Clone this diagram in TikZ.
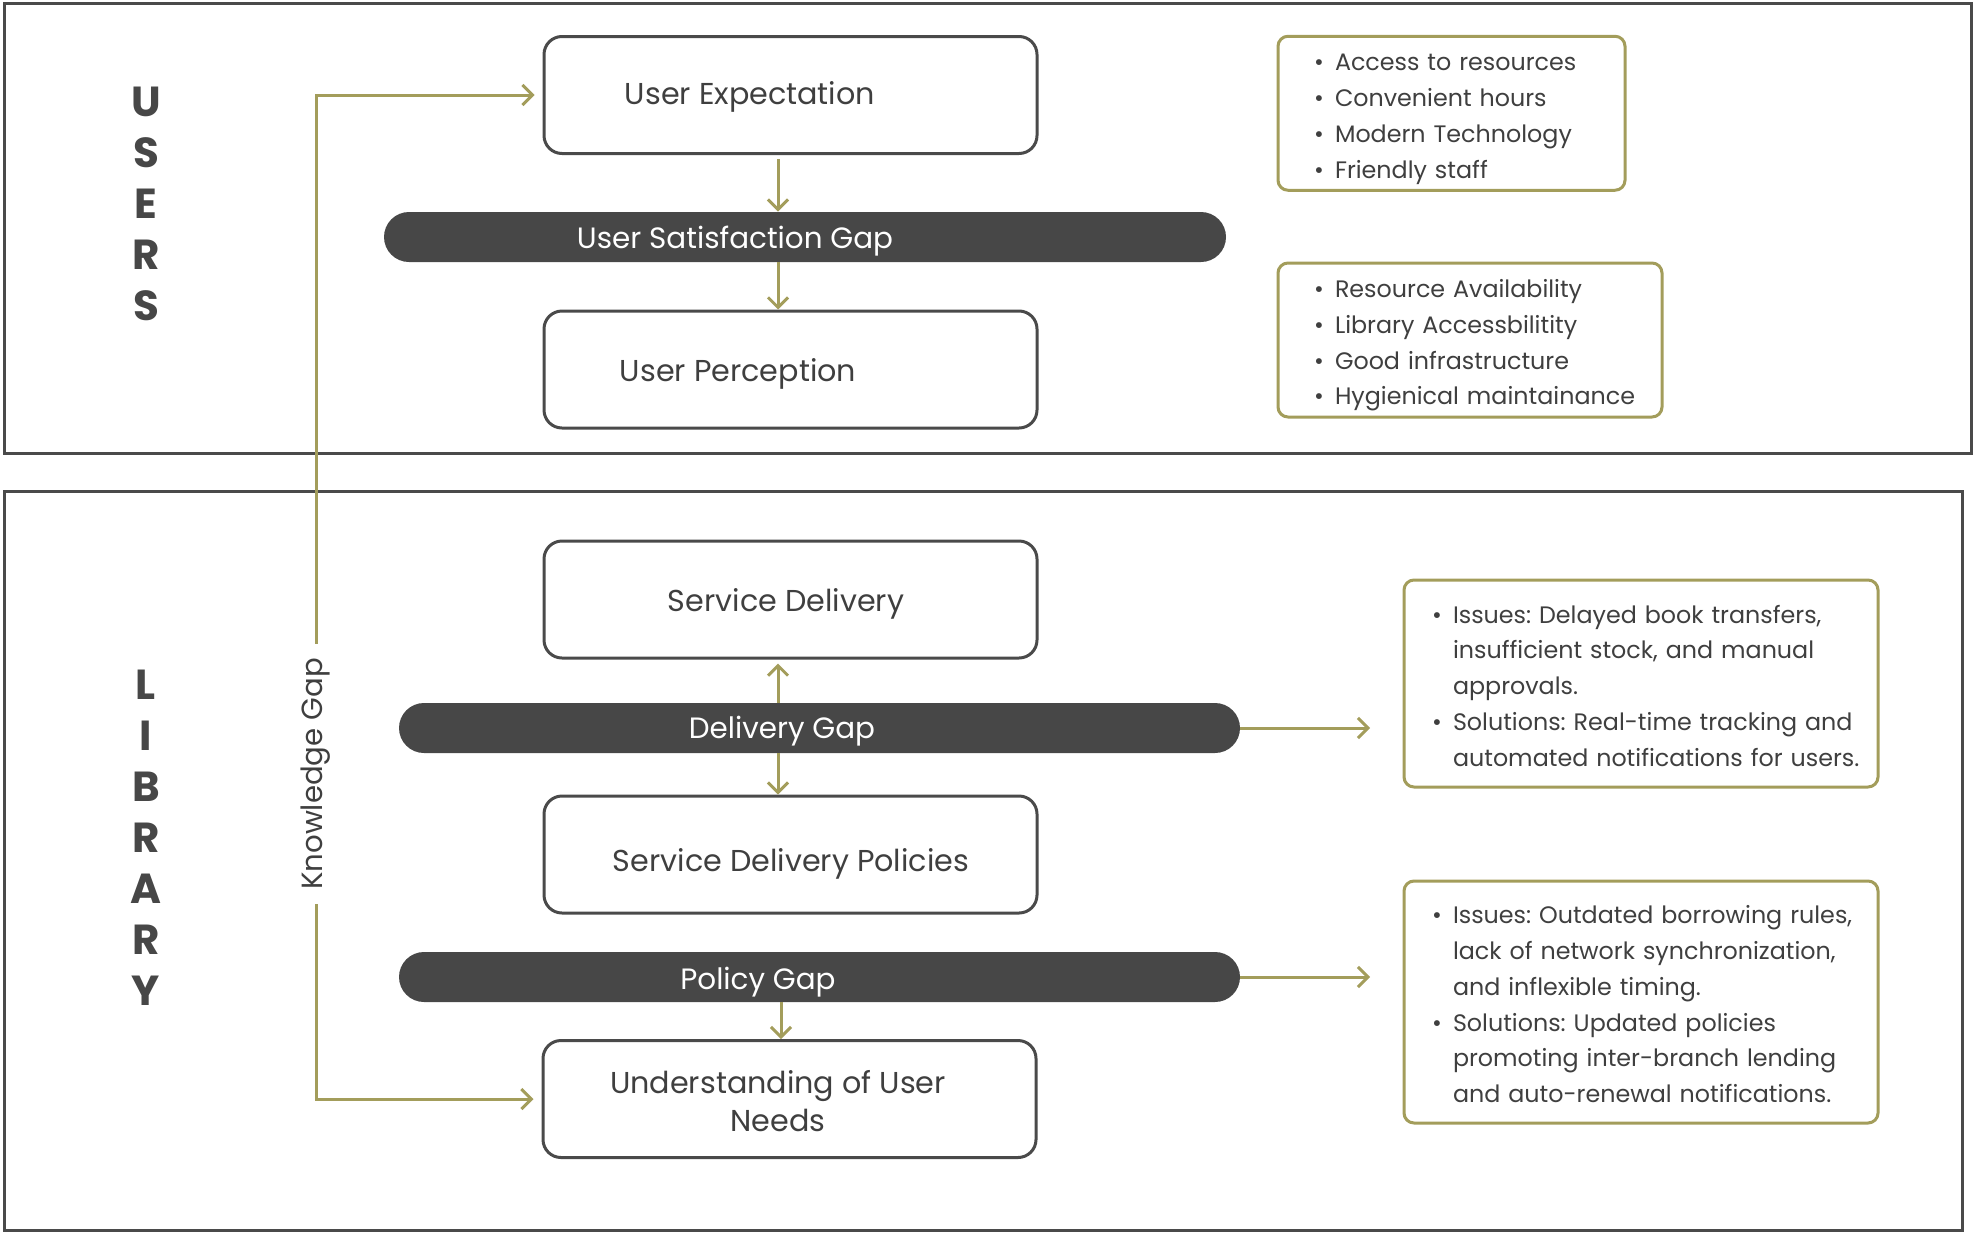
\documentclass[tikz,border=0pt]{standalone}
\usepackage{fontspec}
\setmainfont{Poppins}
\usetikzlibrary{arrows.meta}
\definecolor{kolive}{HTML}{A39D5B}
\definecolor{kbar}{HTML}{474747}
\definecolor{kframe}{HTML}{4A4A4A}
\definecolor{ktext}{HTML}{3F3F3F}
\frenchspacing
\newcommand\kbul{\makebox[10.5pt][l]{•}}
\tikzset{
  mainbox/.style={draw=kframe, line width=1.5pt, rounded corners=9pt, minimum width=246.5pt, minimum height=58.5pt, inner sep=0pt},
  lbl/.style={text=ktext, font=\fontsize{15.1}{19}\selectfont, inner sep=0pt, align=center},
  gapbar/.style={fill=kbar, rounded corners=12.5pt, minimum height=25pt, inner sep=0pt},
  barlbl/.style={text=white, font=\fontsize{14.7}{17}\selectfont, inner sep=0pt},
  conn/.style={draw=kolive, line width=1.5pt, -{Straight Barb[length=5pt,width=10pt]}},
  kline/.style={draw=kolive, line width=1.5pt},
  info/.style={draw=kolive, line width=1.5pt, rounded corners=5pt, text=ktext, font=\fontsize{11.9}{17.9}\selectfont, align=left, inner ysep=0pt},
  side/.style={text=kbar, font=\fontsize{21}{25.5}\selectfont\bfseries, align=center, inner sep=0pt},
  frame/.style={draw=kframe, line width=1.5pt},
  kglbl/.style={text=ktext, font=\fontsize{14.6}{17}\selectfont, inner xsep=7pt, inner ysep=0pt},
}
\begin{document}
\begin{tikzpicture}[x=0.5pt,y=-0.5pt]
\useasboundingbox (0,0) rectangle (1974,1232);
% frames
\draw[frame] (4,3) rectangle (1971,453);
\draw[frame] (4,491) rectangle (1962,1230);
% side titles
\node[side] (users) at (146,203.5) {U\\S\\E\\R\\S};
\node[side] (library) at (146,838) {L\\I\\B\\R\\A\\R\\Y};
% users column
\node[mainbox] (ue) at (790.5,95) {};
\node[lbl] (uet) at (750,97) {User Expectation};
\node[gapbar, minimum width=421pt] (usg) at (805,237) {};
\node[barlbl] (usgt) at (735,241) {User Satisfaction Gap};
\node[mainbox] (up) at (790.5,369.5) {};
\node[lbl] (upt) at (738,374) {User Perception};
% library column
\node[mainbox] (sd) at (790.5,599.5) {};
\node[lbl] (sdt) at (786,604) {Service Delivery};
\node[gapbar, minimum width=420.5pt] (dg) at (819.5,728) {};
\node[barlbl] (dgt) at (782,731) {Delivery Gap};
\node[mainbox] (sdp) at (790.5,854.5) {};
\node[lbl] (sdpt) at (791,864) {Service Delivery Policies};
\node[gapbar, minimum width=420.5pt] (pg) at (819.5,977) {};
\node[barlbl] (pgt) at (758,982) {Policy Gap};
\node[mainbox] (un) at (789.5,1099) {};
\node[lbl] (unt) at (778,1101) {Understanding of User\\Needs};
% arrows in the column
\coordinate (ax) at (778,0);
\coordinate (bx) at (781,0);
\draw[conn, shorten <=2pt] (ue.south -| ax) -- (usg.north -| ax);
\draw[conn] (usg.south -| ax) -- (up.north -| ax);
\draw[conn, shorten >=2pt] (dg.north -| ax) -- (sd.south -| ax);
\draw[conn] (dg.south -| ax) -- (sdp.north -| ax);
\draw[conn] (pg.south -| bx) -- (un.north -| bx);
% horizontal arrows to info boxes
\coordinate (dge) at (1370,728);
\coordinate (pge) at (1370,977);
\draw[conn] (dg.east) -- (dge);
\draw[conn] (pg.east) -- (pge);
% knowledge gap
\node[kglbl, rotate=90] (kg) at (316,774) {Knowledge Gap};
\draw[conn, shorten >=4pt] (kg.east) -- (kg.east |- ue.west) -- (ue.west);
\draw[conn, shorten >=4pt] (kg.west) -- (kg.west |- un.west) -- (un.west);
% info boxes
\node[info, minimum width=173.5pt, minimum height=77pt, inner xsep=18pt, text width=137.5pt] (ib1) at (1451.5,113.25) {%
\raisebox{-2pt}[\height][\depth]{\begin{tabular}{@{}l@{}}
\kbul Access to resources\\
\kbul Convenient hours\\
\kbul Modern Technology\\
\kbul Friendly staff
\end{tabular}}};
\node[info, minimum width=192pt, minimum height=77pt, inner xsep=18pt, text width=156pt] (ib2) at (1470,340) {%
\raisebox{-2pt}[\height][\depth]{\begin{tabular}{@{}l@{}}
\kbul Resource Availability\\
\kbul Library Accessbilitity\\
\kbul Good infrastructure\\
\kbul Hygienical maintainance
\end{tabular}}};
\node[info, minimum width=237pt, minimum height=103.5pt, inner xsep=14pt, text width=209pt] (ib3) at (1641,683.5) {%
\raisebox{-2pt}[\height][\depth]{\begin{tabular}{@{}l@{}}
\kbul Issues: Delayed book transfers,\\
\hspace*{10.5pt}insufficient stock, and manual\\
\hspace*{10.5pt}approvals.\\
\kbul Solutions: Real-time tracking and\\
\hspace*{10.5pt}automated notifications for users.
\end{tabular}}};
\node[info, minimum width=237pt, minimum height=121pt, inner xsep=14pt, text width=209pt] (ib4) at (1641,1002) {%
\raisebox{-2pt}[\height][\depth]{\begin{tabular}{@{}l@{}}
\kbul Issues: Outdated borrowing rules,\\
\hspace*{10.5pt}lack of network synchronization,\\
\hspace*{10.5pt}and inflexible timing.\\
\kbul Solutions: Updated policies\\
\hspace*{10.5pt}promoting inter-branch lending\\
\hspace*{10.5pt}and auto-renewal notifications.
\end{tabular}}};
\end{tikzpicture}
\end{document}
